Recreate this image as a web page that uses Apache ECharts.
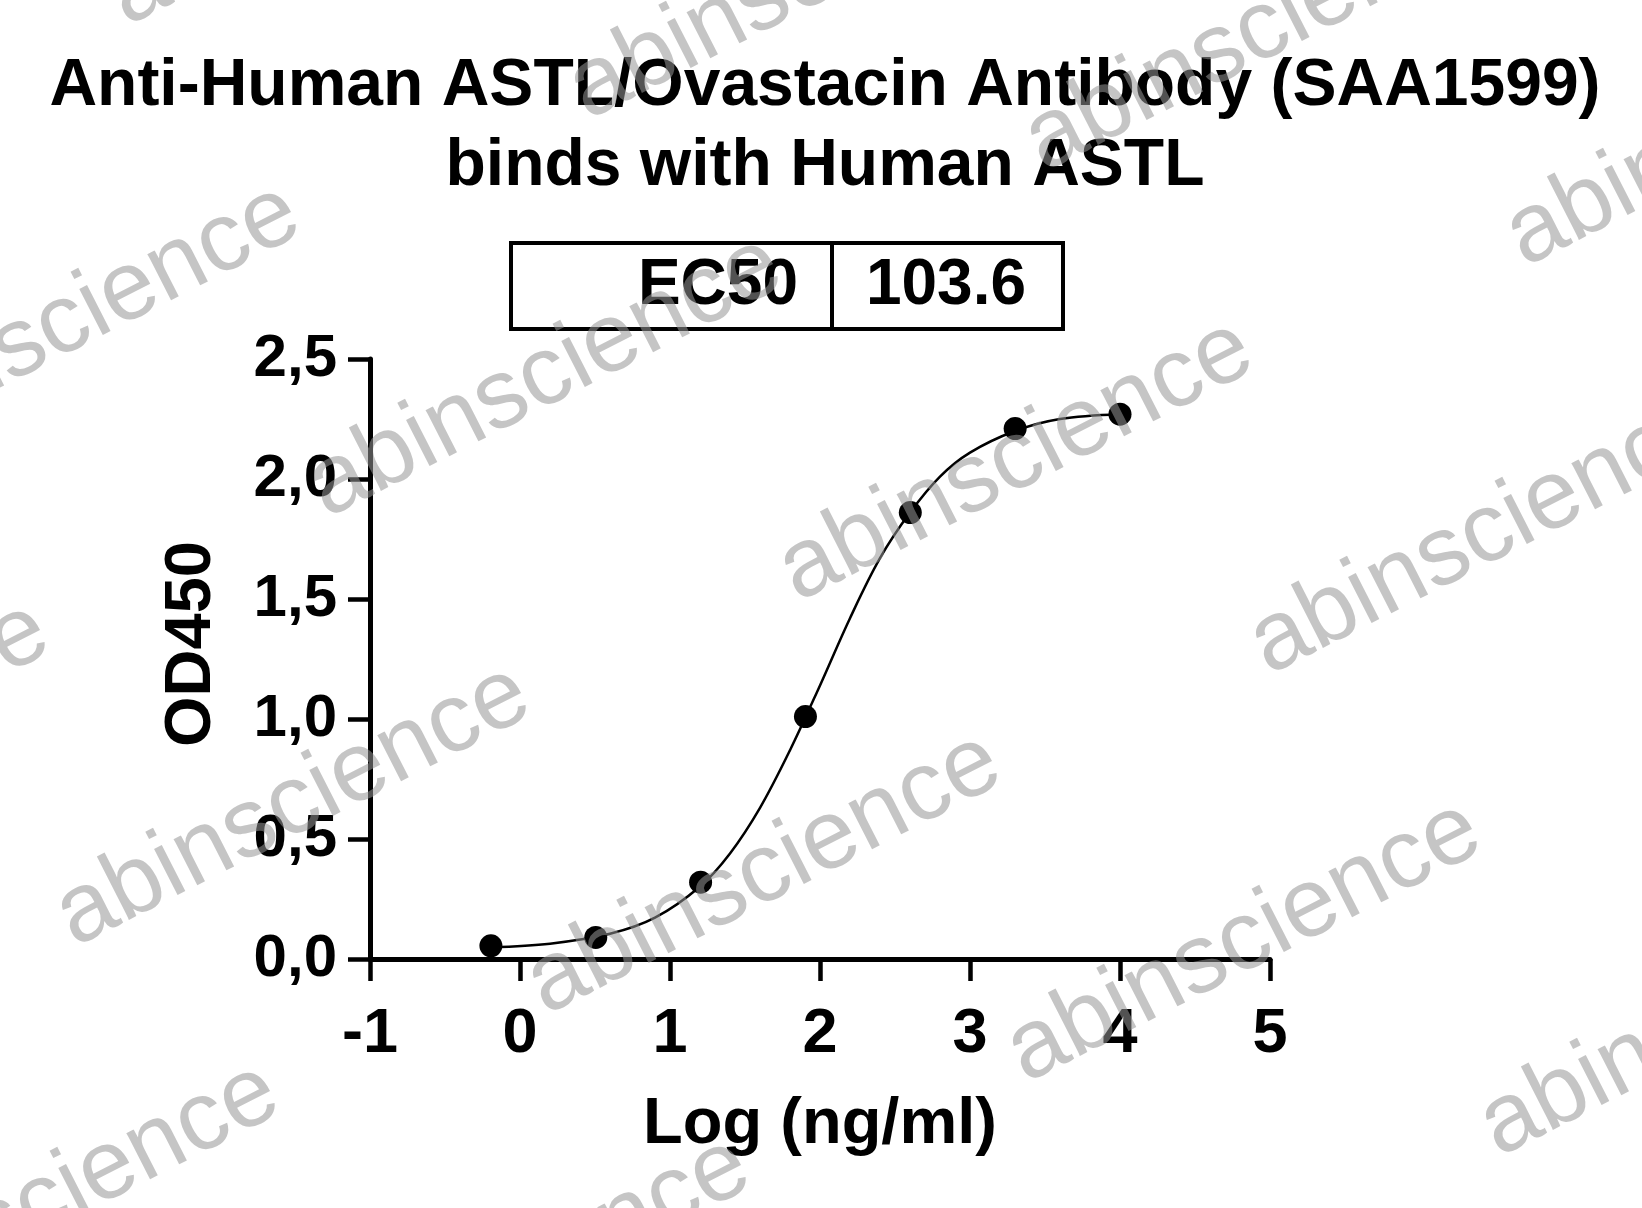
<!DOCTYPE html>
<html>
<head>
<meta charset="utf-8">
<script src="https://cdn.jsdelivr.net/npm/echarts@6/dist/echarts.min.js"></script>
<style>
html,body{margin:0;padding:0;background:#fff;}
#chart{width:1642px;height:1208px;}
</style>
</head>
<body>
<div id="chart"></div>
<script>
// ---- data ----
const titleLines = ['Anti-Human ASTL/Ovastacin Antibody (SAA1599)', 'binds with Human ASTL'];
const ec50Label = 'EC50';
const ec50Value = '103.6';
const xAxisName = 'Log (ng/ml)';
const yAxisName = 'OD450';
const xTickLabels = ['-1', '0', '1', '2', '3', '4', '5'];
const yTickLabels = ['0,0', '0,5', '1,0', '1,5', '2,0', '2,5'];

// measured points: log concentration vs OD450
const logConc = [-0.194, 0.505, 1.204, 1.903, 2.602, 3.301, 4.0];
const od450 = [0.055, 0.09, 0.32, 1.01, 1.86, 2.21, 2.27];

// fitted curve
const curveX = [-0.194, 0.2, 0.6, 0.9, 1.2, 1.4, 1.6, 1.8, 2.0, 2.2, 2.4, 2.6, 2.8, 3.0, 3.3, 3.6, 4.0];
const curveY = [0.049, 0.064, 0.105, 0.172, 0.302, 0.44, 0.63, 0.87, 1.14, 1.42, 1.67, 1.86, 2.01, 2.11, 2.20, 2.25, 2.27];

const watermarkText = 'abinscience';
const watermarkCenters = [[806, -21], [1262, 31], [1743, 126], [63, 325], [545, 377], [1016, 461], [1487, 534], [-188, 743], [293, 806], [764, 874], [1244, 942], [1717, 1016], [42, 1204], [513, 1278], [345, -115]];

// ---- chart ----
const FONT = '"Liberation Sans", Arial, sans-serif';
const chart = echarts.init(document.getElementById('chart'), null, {renderer: 'canvas'});

const pointData = logConc.map((x, i) => [x, od450[i]]);
const curveData = curveX.map((x, i) => [x, curveY[i]]);

const graphics = [
  {
    type: 'rect', z: 10,
    shape: {x: 511, y: 243, width: 552, height: 86},
    style: {fill: '#fff', stroke: '#000', lineWidth: 4}
  },
  {
    type: 'line', z: 10,
    shape: {x1: 832, y1: 243, x2: 832, y2: 329},
    style: {stroke: '#000', lineWidth: 4}
  },
  {
    type: 'text', z: 11, x: 798, y: 286,
    style: {text: ec50Label, font: 'bold 64px ' + FONT, fill: '#000', textAlign: 'right', textVerticalAlign: 'middle'}
  },
  {
    type: 'text', z: 11, x: 946, y: 286,
    style: {text: ec50Value, font: 'bold 64px ' + FONT, fill: '#000', textAlign: 'center', textVerticalAlign: 'middle'}
  }
];
watermarkCenters.forEach(c => {
  graphics.push({
    type: 'text', z: 100, x: c[0], y: c[1], rotation: 27 * Math.PI / 180,
    silent: true,
    style: {text: watermarkText, font: '98px ' + FONT, fill: 'rgba(150,150,150,0.55)', textAlign: 'center', textVerticalAlign: 'middle'}
  });
});

chart.setOption({
  backgroundColor: '#fff',
  animation: false,
  title: {
    text: titleLines.join('\n'),
    left: 820, top: 42, textAlign: 'center',
    textStyle: {fontFamily: FONT, fontWeight: 'bold', fontSize: 66, lineHeight: 80, color: '#000'}
  },
  grid: {left: 370, right: 372, top: 359, bottom: 249, containLabel: false},
  xAxis: {
    type: 'value', min: -1, max: 5, interval: 1,
    name: xAxisName, nameLocation: 'middle', nameGap: 134,
    nameTextStyle: {fontFamily: FONT, fontWeight: 'bold', fontSize: 65, lineHeight: 65, color: '#000'},
    axisLine: {onZero: false, lineStyle: {color: '#000', width: 5}},
    axisTick: {show: true, inside: false, length: 22, lineStyle: {color: '#000', width: 4.5}},
    axisLabel: {
      margin: 44, fontFamily: FONT, fontWeight: 'bold', fontSize: 63, lineHeight: 63, color: '#000',
      formatter: v => xTickLabels[Math.round(v + 1)]
    },
    splitLine: {show: false}
  },
  yAxis: {
    type: 'value', min: 0, max: 2.5, interval: 0.5,
    name: yAxisName, nameLocation: 'middle', nameGap: 145, nameRotate: 90,
    nameTextStyle: {fontFamily: FONT, fontWeight: 'bold', fontSize: 65, color: '#000', padding: [0, 0, 0, 30]},
    axisLine: {show: true, onZero: false, lineStyle: {color: '#000', width: 5}},
    axisTick: {show: true, inside: false, length: 22, lineStyle: {color: '#000', width: 4.5}},
    axisLabel: {
      margin: 33, fontFamily: FONT, fontWeight: 'bold', fontSize: 60, color: '#000',
      formatter: v => yTickLabels[Math.round(v / 0.5)]
    },
    splitLine: {show: false}
  },
  series: [
    {
      type: 'line', data: curveData, smooth: 0.35, showSymbol: false, symbol: 'none',
      lineStyle: {color: '#000', width: 2.5}, z: 2, silent: true
    },
    {
      type: 'scatter', data: pointData, symbol: 'circle', symbolSize: 23,
      itemStyle: {color: '#000', opacity: 1}, z: 3
    }
  ],
  graphic: graphics
});
</script>
</body>
</html>
